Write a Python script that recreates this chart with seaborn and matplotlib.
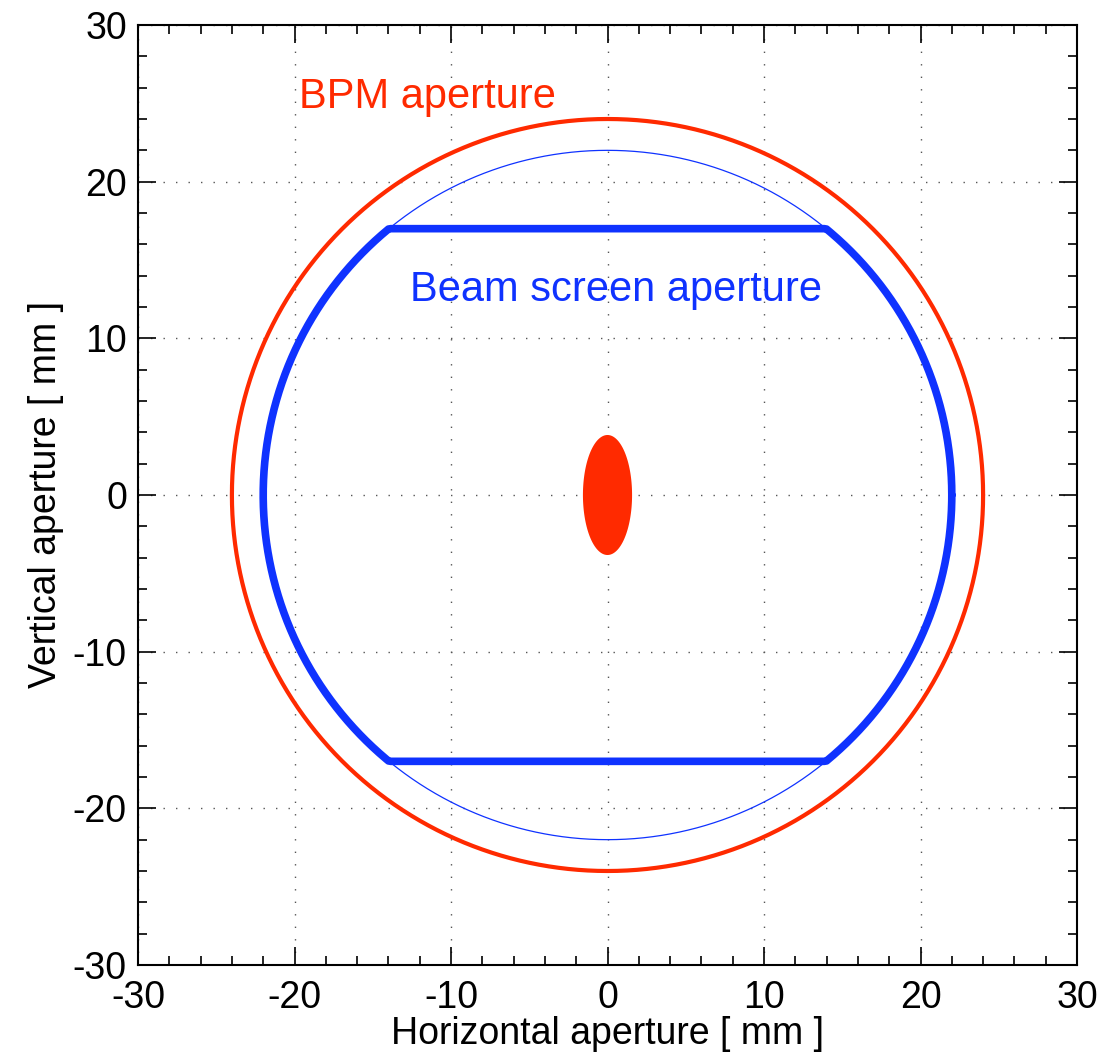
import numpy as np
import pandas as pd
import matplotlib
matplotlib.use("Agg")
import matplotlib.pyplot as plt
import seaborn as sns
from matplotlib.ticker import MultipleLocator

# Aperture geometry [mm]
bpm_radius = 24.0
screen_radius = 22.0
screen_half_height = 17.0
beam_sigma_x = 1.57
beam_sigma_y = 3.83

labels = ["BPM aperture", "Beam screen aperture"]
label_pos = [(-19.7, 25.4), (-12.6, 13.1)]

red = "#ff2a00"
blue = "#0f32ff"

sns.set_theme(style="white")
plt.rcParams["font.family"] = ["Liberation Sans", "DejaVu Sans"]
plt.rcParams["axes.unicode_minus"] = False
plt.rcParams["axes.labelcolor"] = "black"
plt.rcParams["text.color"] = "black"

fig = plt.figure(figsize=(11.04, 10.57), dpi=100)
ax = fig.add_axes([138 / 1104, 1 - 965 / 1057, 939 / 1104, 940 / 1057])

t = np.linspace(0, 2 * np.pi, 721)

# BPM circle
bpm = pd.DataFrame({"x": bpm_radius * np.cos(t), "y": bpm_radius * np.sin(t)})
sns.lineplot(data=bpm, x="x", y="y", sort=False, estimator=None, color=red,
             lw=3.0, ax=ax)

# full beam-screen circle (thin)
circ = pd.DataFrame({"x": screen_radius * np.cos(t), "y": screen_radius * np.sin(t)})
sns.lineplot(data=circ, x="x", y="y", sort=False, estimator=None, color=blue,
             lw=0.9, ax=ax)

# beam screen: circle clipped by the two flats
sx = screen_radius * np.cos(t)
sy = np.clip(screen_radius * np.sin(t), -screen_half_height, screen_half_height)
screen = pd.DataFrame({"x": sx, "y": sy})
sns.lineplot(data=screen, x="x", y="y", sort=False, estimator=None, color=blue,
             lw=5.5, ax=ax)

# beam ellipse
ax.fill(beam_sigma_x * np.cos(t), beam_sigma_y * np.sin(t), color=red, lw=0)

ax.text(*label_pos[0], labels[0], color=red, fontsize=30, va="center", ha="left")
ax.text(*label_pos[1], labels[1], color=blue, fontsize=30, va="center", ha="left")

ax.set_xlim(-30, 30)
ax.set_ylim(-30, 30)
ax.xaxis.set_major_locator(MultipleLocator(10))
ax.yaxis.set_major_locator(MultipleLocator(10))
ax.xaxis.set_minor_locator(MultipleLocator(2))
ax.yaxis.set_minor_locator(MultipleLocator(2))
ax.tick_params(which="both", direction="in", top=True, right=True,
               bottom=True, left=True, colors="black", labelsize=27, width=1.2)
ax.tick_params(which="major", length=13)
ax.tick_params(which="minor", length=6.5)
ax.tick_params(axis="x", which="major", pad=11)
ax.tick_params(axis="y", which="major", pad=8)
ax.grid(True, which="major", color="#555555", linestyle=(0, (1, 8)), lw=1.0)
for s in ax.spines.values():
    s.set_color("black")
    s.set_linewidth(1.5)

ax.set_xlabel("Horizontal aperture [ mm ]", fontsize=27, labelpad=0, color="black")
ax.set_ylabel("Vertical aperture [ mm ]", fontsize=27, labelpad=6, color="black")

fig.savefig("out.png", dpi=100)
